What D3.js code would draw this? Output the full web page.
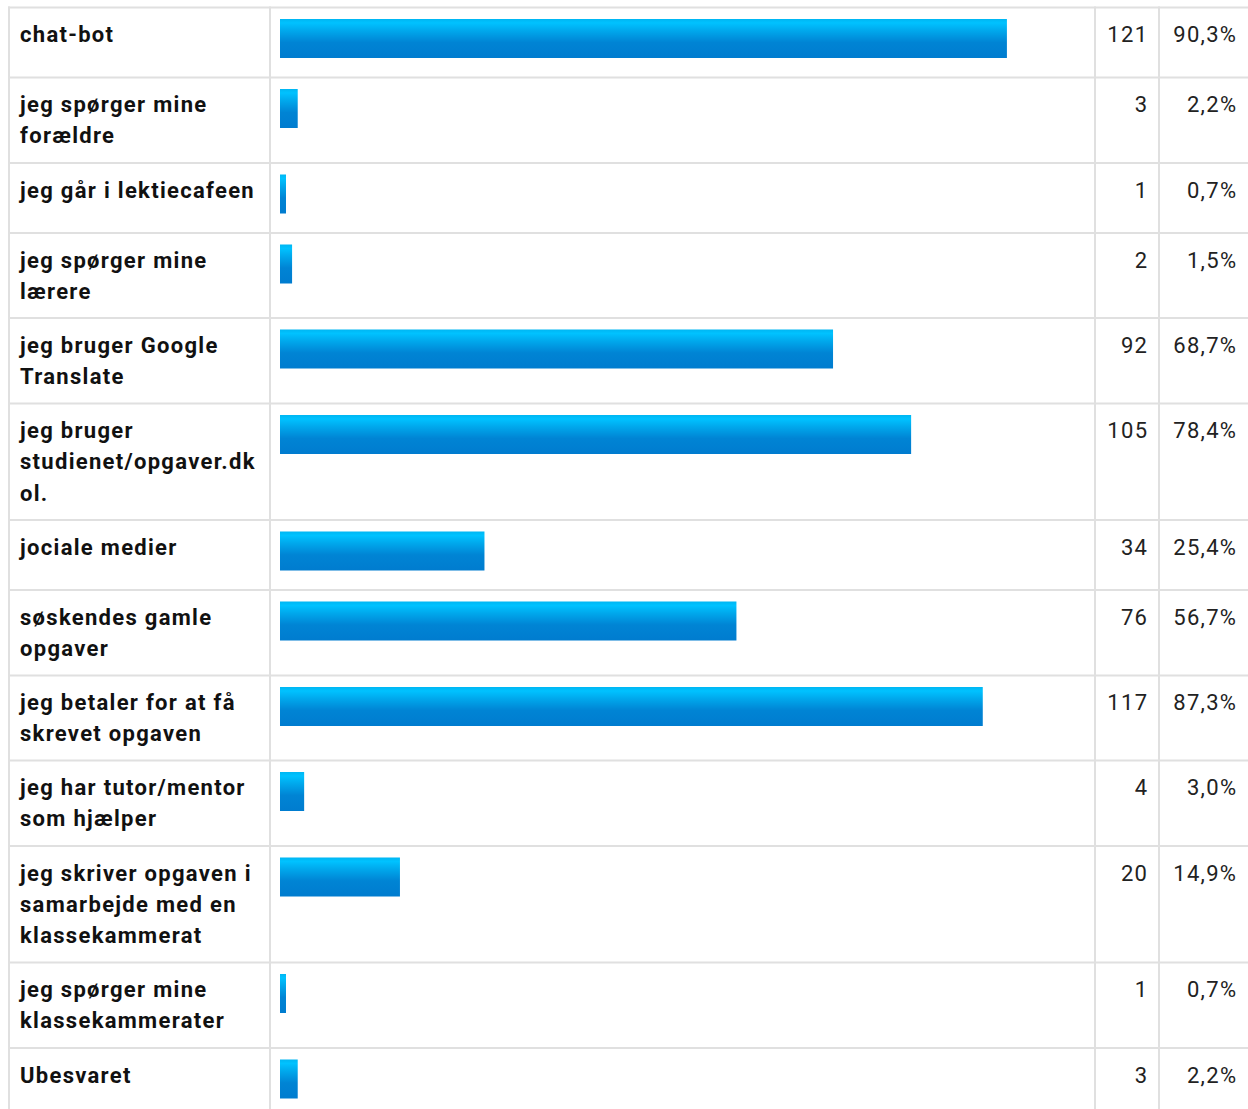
<!DOCTYPE html>
<html>
<head>
<meta charset="utf-8">
<script src="https://cdn.jsdelivr.net/npm/d3@7"></script>
<style>
  body { margin: 0; background: #fff; }
  svg { display: block; font-family: Roboto, "Noto Sans", sans-serif; }
</style>
</head>
<body>
<div id="chart"></div>
<script>
// answers, counts and percentage labels
var labels = [
  "chat-bot",
  "jeg spørger mine forældre",
  "jeg går i lektiecafeen",
  "jeg spørger mine lærere",
  "jeg bruger Google Translate",
  "jeg bruger studienet/opgaver.dk ol.",
  "jociale medier",
  "søskendes gamle opgaver",
  "jeg betaler for at få skrevet opgaven",
  "jeg har tutor/mentor som hjælper",
  "jeg skriver opgaven i samarbejde med en klassekammerat",
  "jeg spørger mine klassekammerater",
  "Ubesvaret"
];
var counts = [121, 3, 1, 2, 92, 105, 34, 76, 117, 4, 20, 1, 3];
var percents = [90.3, 2.2, 0.7, 1.5, 68.7, 78.4, 25.4, 56.7, 87.3, 3.0, 14.9, 0.7, 2.2];

var width = 1248, height = 1109;
var tableTop = 7.5, tableLeft = 9;
var colBar = 270, colCount = 1095, colPct = 1159;
var lineH = 31.4, wrapW = 246;
var fontSize = 22, spacing = 1.3;
var borderColor = "#e0e0e0";

var svg = d3
  .select("#chart")
  .append("svg")
  .attr("width", width)
  .attr("height", height);

// gradient for the bars
var grad = svg
  .append("defs")
  .append("linearGradient")
  .attr("id", "barGrad")
  .attr("x1", 0).attr("y1", 0).attr("x2", 0).attr("y2", 1);
grad.append("stop").attr("offset", "0%").attr("stop-color", "#00b6f2");
grad.append("stop").attr("offset", "10%").attr("stop-color", "#00c2ff");
grad.append("stop").attr("offset", "30%").attr("stop-color", "#00a8ec");
grad.append("stop").attr("offset", "60%").attr("stop-color", "#0084d4");
grad.append("stop").attr("offset", "100%").attr("stop-color", "#007ccf");

// wrap labels by measuring text
var measure = svg
  .append("text")
  .style("font-size", fontSize + "px")
  .style("font-weight", "700")
  .style("letter-spacing", spacing + "px");
function wrap(str) {
  var words = str.split(" "), lines = [], cur = "";
  words.forEach(function (w) {
    var test = cur ? cur + " " + w : w;
    measure.text(test);
    if (cur && measure.node().getComputedTextLength() > wrapW) {
      lines.push(cur);
      cur = w;
    } else {
      cur = test;
    }
  });
  lines.push(cur);
  return lines;
}

var rows = [];
var y0 = tableTop;
labels.forEach(function (l, i) {
  var lines = wrap(l);
  var h = Math.max(70, 22.5 + lineH * lines.length);
  rows.push({ label: l, lines: lines, count: counts[i], pct: percents[i], top: y0, h: h });
  y0 += h;
});
measure.remove();

var x = d3.scaleLinear().domain([0, 100]).range([0, colCount - 10 - (colBar + 10)]);

// grid lines
var grid = svg.append("g").attr("stroke", borderColor).attr("stroke-width", 2);
grid
  .selectAll(".hline")
  .data(rows.map(function (r) { return Math.round(r.top * 2) / 2; }).concat([y0]))
  .enter()
  .append("line")
  .attr("x1", tableLeft - 1)
  .attr("x2", width)
  .attr("y1", function (d) { return d; })
  .attr("y2", function (d) { return d; });
grid
  .selectAll(".vline")
  .data([tableLeft, colBar, colCount, colPct])
  .enter()
  .append("line")
  .attr("x1", function (d) { return d; })
  .attr("x2", function (d) { return d; })
  .attr("y1", tableTop - 1)
  .attr("y2", Math.max(y0, height));

var row = svg
  .selectAll(".row")
  .data(rows)
  .enter()
  .append("g")
  .attr("class", "row")
  .attr("transform", function (d) { return "translate(0," + Math.round(d.top * 2) / 2 + ")"; });

row
  .append("rect")
  .attr("x", colBar + 10)
  .attr("y", 11.5)
  .attr("height", 39)
  .attr("width", function (d) { return Math.max(6, x(d.pct)); })
  .attr("fill", "url(#barGrad)");

row
  .append("text")
  .attr("x", 20)
  .attr("y", 34.5)
  .style("font-size", fontSize + "px")
  .style("font-weight", "700")
  .style("letter-spacing", spacing + "px")
  .style("fill", "#111")
  .selectAll("tspan")
  .data(function (d) { return d.lines; })
  .enter()
  .append("tspan")
  .attr("x", 20)
  .attr("y", function (d, i) { return 34.5 + i * lineH; })
  .text(function (d) { return d; });

row
  .append("text")
  .attr("x", colCount + 52 + spacing)
  .attr("y", 34.5)
  .attr("text-anchor", "end")
  .style("font-size", fontSize + "px")
  .style("letter-spacing", spacing + "px")
  .style("fill", "#222")
  .text(function (d) { return d.count; });

row
  .append("text")
  .attr("x", colPct + 77 + spacing)
  .attr("y", 34.5)
  .attr("text-anchor", "end")
  .style("font-size", fontSize + "px")
  .style("letter-spacing", spacing + "px")
  .style("fill", "#222")
  .text(function (d) { return d.pct.toFixed(1).replace(".", ",") + "%"; });
</script>
</body>
</html>
